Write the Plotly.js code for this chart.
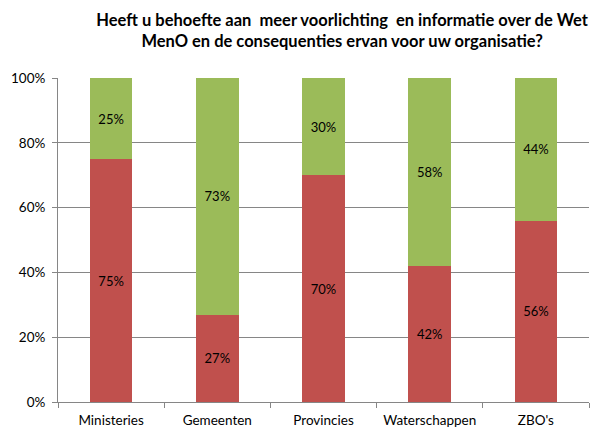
<!DOCTYPE html>
<html>
<head>
<meta charset="utf-8">
<script src="https://cdn.plot.ly/plotly-3.0.1.min.js"></script>
<style>html,body{margin:0;padding:0;background:#fff;}#chart{width:596px;height:430px;}</style>
</head>
<body>
<div id="chart"></div>
<script>
const categories = ["Ministeries", "Gemeenten", "Provincies", "Waterschappen", "ZBO's"];
const jaValues = [75, 27, 70, 42, 56];
const neeValues = [25, 73, 30, 58, 44];
const yTicks = [0, 20, 40, 60, 80, 100];

const font = "Lato, 'Open Sans', sans-serif";

const traces = [
  {
    type: "bar", x: categories, y: jaValues, name: "Ja",
    marker: {color: "#C0504D", line: {width: 0}},
    text: jaValues.map(v => v + "%"), textposition: "inside", insidetextanchor: "middle",
    textfont: {family: font, size: 13, color: "#000"}, hoverinfo: "none"
  },
  {
    type: "bar", x: categories, y: neeValues, name: "Nee",
    marker: {color: "#9BBB59", line: {width: 0}},
    text: neeValues.map(v => v + "%"), textposition: "inside", insidetextanchor: "middle",
    textfont: {family: font, size: 13, color: "#000"}, hoverinfo: "none"
  }
];

const layout = {
  width: 596, height: 430,
  barmode: "stack", bargap: 0.6,
  showlegend: false,
  paper_bgcolor: "#fff", plot_bgcolor: "#fff",
  margin: {l: 58, r: 7, t: 78, b: 28},
  font: {family: font, size: 13, color: "#000"},
  title: {
    text: "<b>Heeft u behoefte aan  meer voorlichting  en informatie over de Wet<br>MenO en de consequenties ervan voor uw organisatie?</b>",
    font: {family: font, size: 16.5, color: "#000"},
    x: 0.574, xanchor: "center", y: 0.94, yanchor: "top"
  },
  xaxis: {
    showline: true, linecolor: "#868686", linewidth: 1,
    ticks: "outside", tickson: "boundaries", ticklen: 5, tickcolor: "#868686",
    ticklabelstandoff: 6,
    showgrid: false, tickfont: {family: font, size: 13.5}
  },
  yaxis: {
    range: [0, 100], tickvals: yTicks, ticktext: yTicks.map(v => v + "%"),
    showline: true, linecolor: "#868686", linewidth: 1,
    ticks: "outside", ticklen: 5, tickcolor: "#868686",
    ticklabelstandoff: 4,
    showgrid: true, gridcolor: "#868686", gridwidth: 1,
    zeroline: false, tickfont: {family: font, size: 13.5}
  }
};

Plotly.newPlot("chart", traces, layout, {displayModeBar: false, staticPlot: true});
</script>
</body>
</html>
